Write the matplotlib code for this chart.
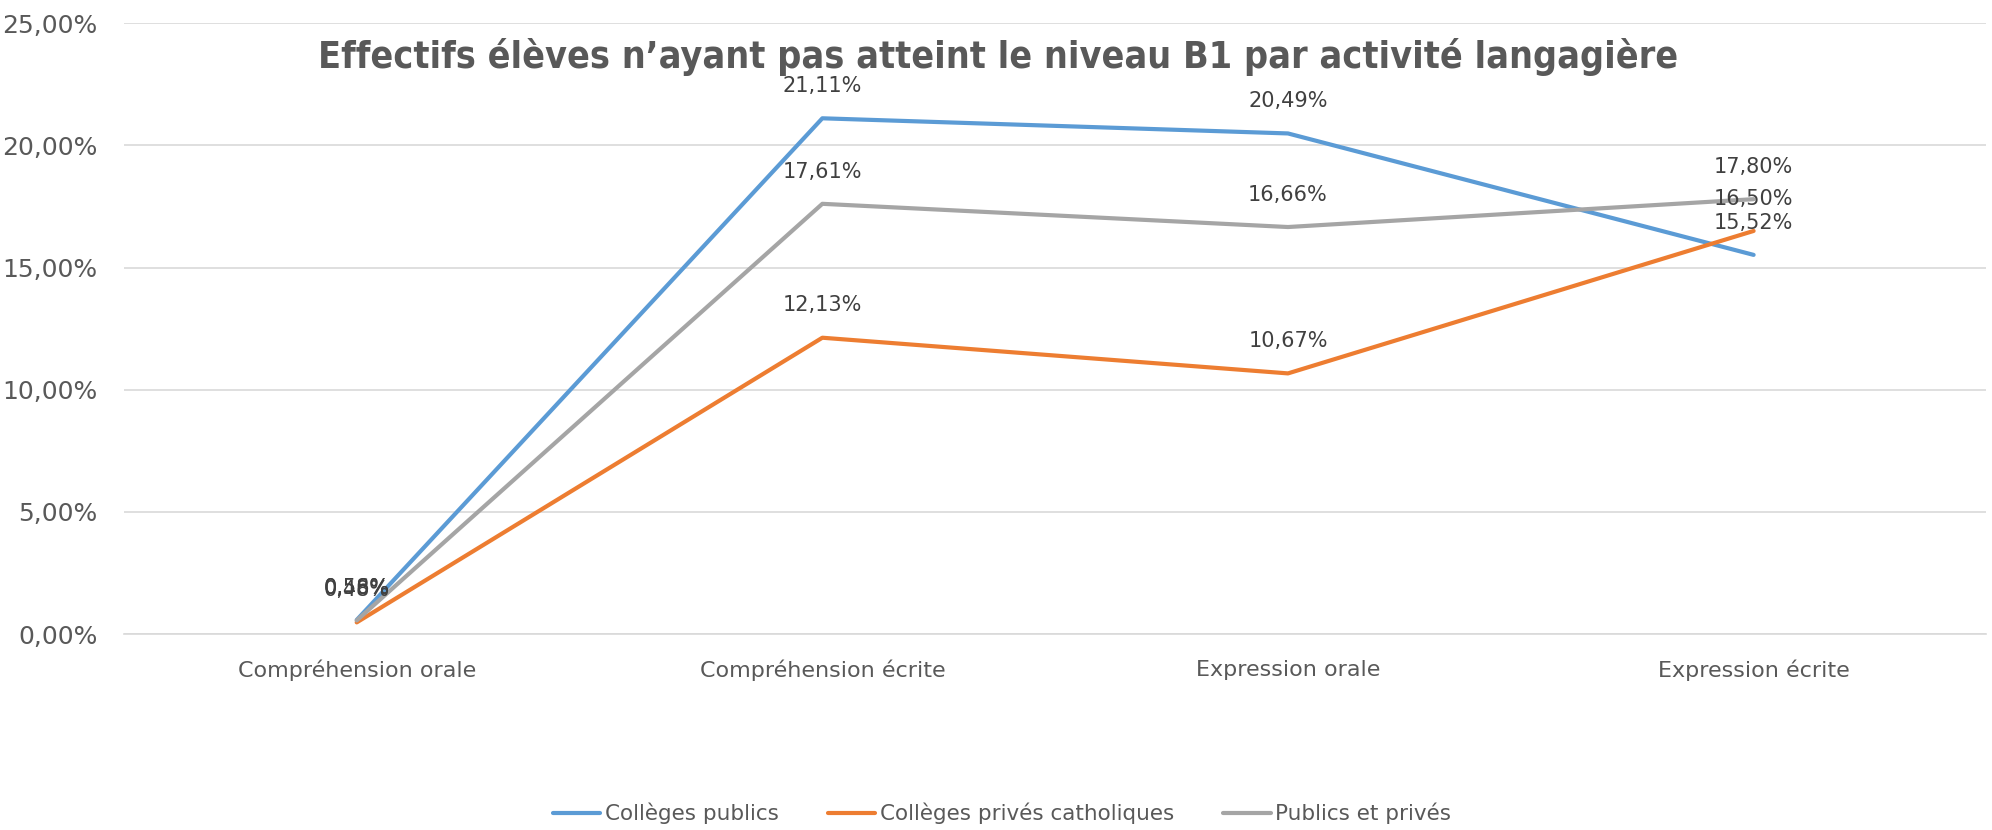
import matplotlib.pyplot as plt
import numpy as np

# data #
categories = ['Compréhension orale', 'Compréhension écrite', 'Expression orale', 'Expression écrite']
publics = [0.58, 21.11, 20.49, 15.52]
prives = [0.48, 12.13, 10.67, 16.50]
ensemble = [0.56, 17.61, 16.66, 17.80]
series_names = ['Collèges publics', 'Collèges privés catholiques', 'Publics et privés']
colors = ['#5B9BD5', '#ED7D31', '#A5A5A5']

txt = '#595959'


def fmt(v):
	return ('%.2f%%' % v).replace('.', ',')


fig = plt.figure(figsize=(19.92, 8.30), dpi=100)
ax = fig.add_axes([0.0622, 0.236, 0.935, 0.736])

x = np.arange(len(categories))
for vals, name, c in zip([publics, prives, ensemble], series_names, colors):
	ax.plot(x, vals, color=c, lw=3, label=name, solid_capstyle='round')
	for xi, v in zip(x, vals):
		ax.annotate(fmt(v), (xi, v), xytext=(0, 16), textcoords='offset points',
					ha='center', va='bottom', fontsize=15, color='#404040')

ax.set_xlim(-0.5, len(categories) - 0.5)
ax.set_ylim(0, 25)
ax.set_yticks(np.arange(0, 26, 5))
ax.set_yticklabels([fmt(v) for v in np.arange(0, 26, 5)])
ax.set_xticks(x)
ax.set_xticklabels(categories)
ax.tick_params(axis='both', length=0, colors=txt)
ax.tick_params(axis='x', pad=18.5, labelsize=16)
ax.tick_params(axis='y', pad=19, labelsize=18)
ax.grid(axis='y', color='#D9D9D9', lw=1.2)
ax.set_axisbelow(True)
for s in ['top', 'right', 'left']:
	ax.spines[s].set_visible(False)
ax.spines['bottom'].set_color('#D9D9D9')
ax.spines['bottom'].set_linewidth(1.2)

fig.text(0.501, 0.931, 'Effectifs élèves n’ayant pas atteint le niveau B1 par activité langagière',
		 ha='center', va='center', fontsize=27, fontweight='bold', color=txt,
		 fontstretch='condensed')

leg = fig.legend(loc='center', bbox_to_anchor=(0.503, 0.02), ncol=3, frameon=False,
				 prop={'size': 15.5}, handlelength=2.2, handletextpad=0.2,
				 columnspacing=2.3)
for t in leg.get_texts():
	t.set_color(txt)

fig.savefig('out.png', dpi=100)
